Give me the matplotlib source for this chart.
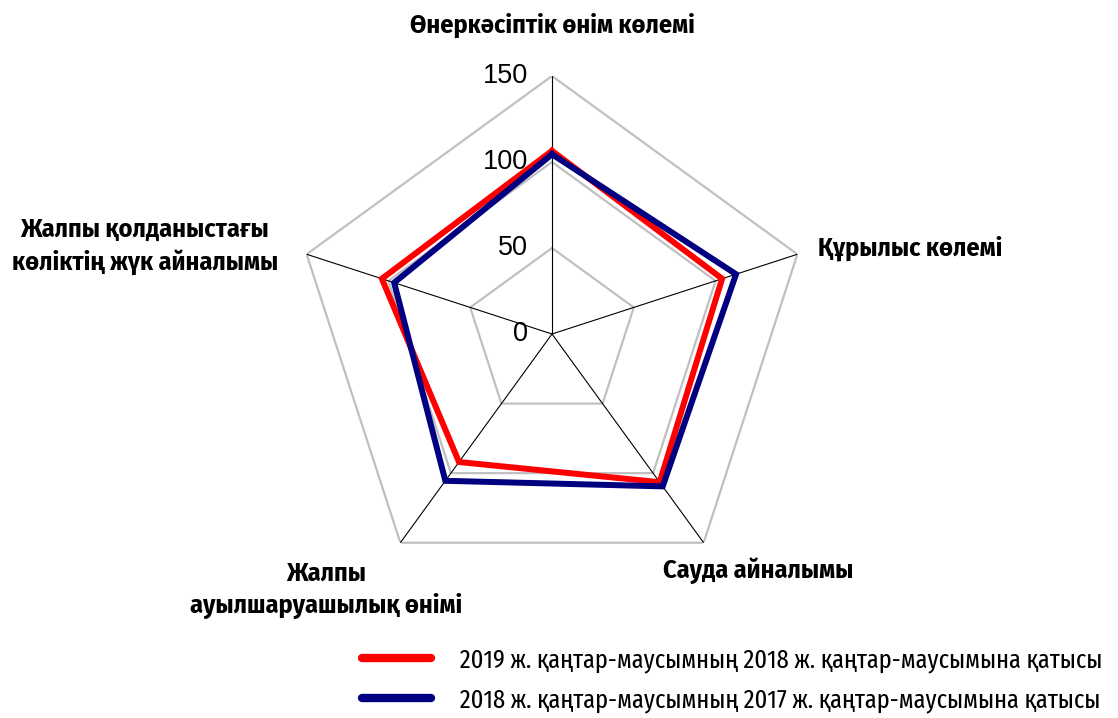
import numpy as np
import matplotlib
matplotlib.use("Agg")
import matplotlib.pyplot as plt
from matplotlib.lines import Line2D

# ── Data ──────────────────────────────────────────────────────────────────────
categories = [
    "Өнеркәсіптік өнім көлемі",
    "Құрылыс көлемі",
    "Сауда айналымы",
    "Жалпы\nауылшаруашылық өнімі",
    "Жалпы қолданыстағы\nкөліктің жүк айналымы",
]
series_2019 = [106.5, 104.0, 106.5, 92.0, 104.0]
series_2018 = [104.5, 112.5, 109.5, 105.5, 96.5]
series_names = [
    "2019 ж. қаңтар-маусымның 2018 ж. қаңтар-маусымына қатысы",
    "2018 ж. қаңтар-маусымның 2017 ж. қаңтар-маусымына қатысы",
]
r_ticks = [0, 50, 100, 150]

RED = "#ff0000"
NAVY = "#000080"
GRID = "#c0c0c0"
COND = ["Fira Sans Condensed", "DejaVu Sans"]
XCOND = ["Fira Sans Extra Condensed", "DejaVu Sans"]

W, H = 1118, 718
fig = plt.figure(figsize=(W / 100, H / 100), dpi=100)

# polar axes placed so centre ~ (552, 334) px and r=150 ~ 258 px
cx, cy, rad = 552, 334, 258
ax = fig.add_axes([(cx - rad) / W, 1 - (cy + rad) / H, 2 * rad / W, 2 * rad / H],
                  projection="polar")
ax.set_theta_offset(np.pi / 2)
ax.set_theta_direction(-1)
ax.set_ylim(0, 150)
ax.set_xticks([])
ax.set_yticks([])
ax.grid(False)
ax.spines["polar"].set_visible(False)
ax.patch.set_alpha(0)

n = len(categories)
theta = np.linspace(0, 2 * np.pi, n, endpoint=False)
theta_c = np.append(theta, theta[0])

# pentagon grid + spokes
for rv in r_ticks[1:]:
    ax.plot(theta_c, [rv] * (n + 1), color=GRID, lw=1.6, zorder=1)
for t in theta:
    ax.plot([t, t], [0, 150], color="black", lw=0.8, zorder=2)

# series
ax.plot(theta_c, series_2019 + series_2019[:1], color=RED, lw=4.3,
        solid_joinstyle="miter", zorder=4)
ax.plot(theta_c, series_2018 + series_2018[:1], color=NAVY, lw=4.3,
        solid_joinstyle="miter", zorder=5)

# radial tick labels left of the top spoke
for rv in r_ticks:
    ax.annotate(str(rv), xy=(0, rv), xytext=(-17, 0), textcoords="offset points",
                ha="right", va="center", fontsize=19.5,
                family=["Liberation Sans", "DejaVu Sans"], zorder=6)

# category labels
lab_pos = [(552, 25), (910, 248), (758, 571), (326, 590), (145, 246)]
for lab, (x, y) in zip(categories, lab_pos):
    fig.text(x / W, 1 - y / H, lab, ha="center", va="center", fontsize=18.8,
             fontweight="bold", family=COND, linespacing=1.38)

# legend
handles = [Line2D([], [], color=RED, lw=6, solid_capstyle="round"),
           Line2D([], [], color=NAVY, lw=6, solid_capstyle="round")]
fig.legend(handles, series_names, loc="upper left",
           bbox_to_anchor=(362 / W, 1 - 648 / H), frameon=False,
           prop={"family": XCOND, "size": 19.1},
           handlelength=2.6, handletextpad=1.1, labelspacing=0.55,
           borderpad=0, borderaxespad=0)

fig.savefig("out.png", dpi=100, facecolor="white")
